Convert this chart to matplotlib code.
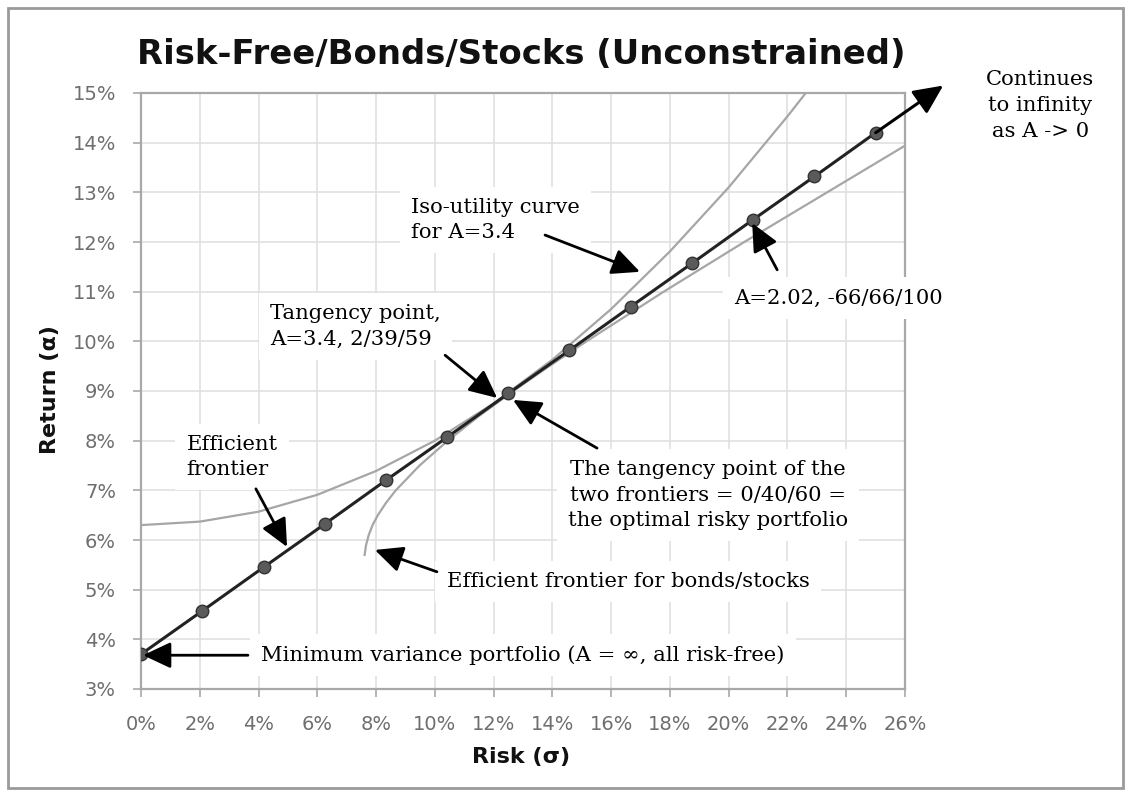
import matplotlib
matplotlib.use("Agg")
import matplotlib.pyplot as plt
from matplotlib.patches import Rectangle
from matplotlib.ticker import FuncFormatter

# ---- data (risk %, return %) ----
cal_risk = [0, 2.08, 4.17, 6.25, 8.33, 10.42, 12.5, 14.58, 16.67, 18.75, 20.83, 22.92, 25.0]
cal_ret = [3.70, 4.57, 5.45, 6.32, 7.20, 8.07, 8.95, 9.82, 10.70, 11.57, 12.45, 13.32, 14.20]
cal_end = (27.3, 15.15)   # arrow tip, continues past the plot

iso_risk = [0, 2, 4, 6, 8, 10, 12, 14, 16, 18, 20, 22, 22.65]
iso_ret = [6.30, 6.37, 6.57, 6.91, 7.39, 8.00, 8.75, 9.63, 10.65, 11.81, 13.10, 14.53, 15.02]

fr_risk = [7.61, 7.66, 7.75, 7.88, 8.06, 8.34, 8.67, 9.48, 10.44, 11.51, 12.67, 13.89, 15.16, 17.79, 20.53, 23.35, 26.0]
fr_ret = [5.70, 5.90, 6.10, 6.30, 6.50, 6.75, 7.00, 7.50, 8.00, 8.50, 9.00, 9.50, 10.00, 11.00, 12.00, 13.00, 13.94]

x_ticks = list(range(0, 27, 2))
y_ticks = list(range(3, 16))

# ---- figure ----
fig = plt.figure(figsize=(11.31, 7.96), dpi=100)
ax = fig.add_axes([141/1131, 1 - 689/796, 764/1131, 596/796])

ax.set_xlim(0, 26)
ax.set_ylim(3, 15)
ax.set_xticks(x_ticks)
ax.set_yticks(y_ticks)
pct = FuncFormatter(lambda v, p: f"{v:.0f}%")
ax.xaxis.set_major_formatter(pct)
ax.yaxis.set_major_formatter(pct)
ax.tick_params(labelsize=14, labelcolor='#6e6e6e', color='#a8a8a8', length=6, width=1.2)
ax.tick_params(axis='x', pad=13)
ax.tick_params(axis='y', pad=12)
ax.grid(True, color='#e0e0e0', lw=1.2, zorder=0)
ax.set_axisbelow(True)
for s in ax.spines.values():
    s.set_color('#a8a8a8')
    s.set_linewidth(1.6)

head = '-|>,head_length=0.85,head_width=0.4'

# curves
ax.plot(iso_risk, iso_ret, color='#a6a6a6', lw=1.6, zorder=3)
ax.plot(fr_risk, fr_ret, color='#a6a6a6', lw=1.6, zorder=3)
ax.plot(cal_risk, cal_ret, color='#222222', lw=2.2, zorder=4,
        marker='o', ms=9, mfc='#5a5a5a', mec='#333333', mew=1)
ax.annotate('', xy=cal_end, xytext=(cal_risk[-1], cal_ret[-1]), annotation_clip=False,
            arrowprops=dict(arrowstyle=head, mutation_scale=21,
                            color='black', lw=2.2, shrinkA=0, shrinkB=0), zorder=4)

serif = ['DejaVu Serif']
box = dict(facecolor='white', edgecolor='none', pad=8)


def note(text, xy, xytext, tx, ty, ha='left', va='center'):
    ax.annotate('', xy=xy, xytext=xytext,
                arrowprops=dict(arrowstyle=head, mutation_scale=20,
                                color='black', lw=2, shrinkA=0, shrinkB=0), zorder=6)
    ax.text(tx, ty, text, ha=ha, va=va, fontsize=15.2, family=serif, linespacing=1.42,
            bbox=box, zorder=5)


note('Iso-utility curve\nfor A=3.4', (16.98, 11.40), (13.75, 12.14), 9.2, 12.44)
note('Tangency point,\nA=3.4, 2/39/59', (12.12, 8.86), (10.35, 9.72), 4.4, 10.3)
note('Efficient\nfrontier', (4.97, 5.86), (3.91, 7.03), 1.55, 7.67)
note('A=2.02, -66/66/100', (20.8, 12.38), (21.65, 11.44), 20.2, 10.87)
note('The tangency point of the\ntwo frontiers = 0/40/60 =\nthe optimal risky portfolio',
     (12.66, 8.82), (15.52, 7.85), 19.3, 6.9, ha='center')
note('Efficient frontier for bonds/stocks', (7.96, 5.80), (10.07, 5.36), 10.4, 5.17)
note('Minimum variance portfolio (A = \u221e, all risk-free)', (0.07, 3.68), (3.64, 3.68), 4.1, 3.68)

ax.text(30.6, 14.75, 'Continues\nto infinity\nas A -> 0', ha='center', va='center', fontsize=15.2,
        family=serif, linespacing=1.45, clip_on=False)

# titles
fig.text(521/1131, 1 - 54/796, 'Risk-Free/Bonds/Stocks (Unconstrained)', ha='center', va='center',
         fontsize=24.4, fontweight='bold', color='#111111')
fig.text(521/1131, 1 - 757/796, 'Risk (\u03c3)', ha='center', va='center', fontsize=16,
         fontweight='bold', color='#111111')
fig.text(50/1131, 1 - 390/796, 'Return (\u03b1)', ha='center', va='center', fontsize=16,
         fontweight='bold', color='#111111', rotation=90)

# outer frame
fig.patches.append(Rectangle((8/1131, 8/796), 1115/1131, 780/796, transform=fig.transFigure,
                             fill=False, edgecolor='#9a9a9a', lw=2))

fig.savefig('out.png', dpi=100)
